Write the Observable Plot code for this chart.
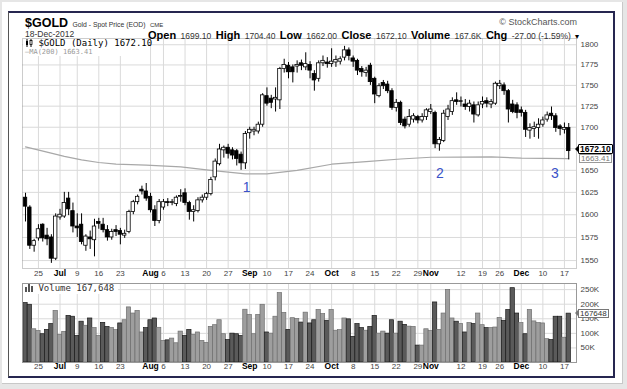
<!DOCTYPE html>
<html><head><meta charset="utf-8">
<script src="https://cdn.jsdelivr.net/npm/d3@7"></script>
<script src="https://cdn.jsdelivr.net/npm/@observablehq/plot@0.6"></script>
<style>
body{margin:0;width:627px;height:389px;background:#e6e6e6;font-family:"Liberation Sans",Arial,sans-serif;position:relative;overflow:hidden}
.abs{position:absolute;white-space:nowrap}
.mono{font-family:"DejaVu Sans Mono",monospace}
.hl{font-weight:bold;font-size:11px;color:#000}
.hv{font-size:8.5px;color:#333}
</style></head><body>
<div class="abs" style="left:2px;top:2px;width:620px;height:381px;background:#fff;border-right:1px solid #c8c8c8;border-bottom:1px solid #c8c8c8"></div>
<div class="abs" style="left:8px;top:11px;width:604px;height:363px;border-top:2px solid #262650;border-bottom:2px solid #262650;border-left:1px solid #555;border-right:2px solid #262650"></div>
<div id="price" class="abs" style="left:10px;top:30px"></div>
<div id="vol" class="abs" style="left:10px;top:282px"></div>

<div class="abs" style="left:25px;top:16px;line-height:12px"><b style="font-size:12.5px">$GOLD</b> <span style="font-size:6.8px;color:#333">Gold - Spot Price (EOD)</span> <span style="font-size:6px;color:#333">CME</span></div>
<div class="abs" style="left:25px;top:29.5px;font-size:8.5px;color:#333;line-height:8px">18-Dec-2012</div>
<div class="abs" style="left:148px;top:28.5px;line-height:9px"><span class="hl">Open</span> <span class="hv">1699.10</span> <span class="hl">High</span> <span class="hv">1704.40</span> <span class="hl">Low</span> <span class="hv">1662.00</span> <span class="hl">Close</span> <span class="hv">1672.10</span> <span class="hl">Volume</span> <span class="hv">167.6K</span> <span class="hl">Chg</span> <span class="hv">-27.00 (-1.59%)</span> <span style="font-size:8px">&#9662;</span></div>
<div class="abs" style="right:50px;top:17px;font-size:9px;color:#555;line-height:10px">&copy; StockCharts.com</div>

<div class="abs" style="left:23px;top:39px;width:126px;height:17px;background:#fff"></div>
<div class="abs mono" style="left:25px;top:39px;font-size:9px;line-height:9px;color:#000"><svg width="8" height="8" style="vertical-align:-1px"><line x1="2" y1="0" x2="2" y2="8" stroke="#000"/><rect x="1" y="2" width="2" height="4" fill="#000"/><line x1="6" y1="0" x2="6" y2="8" stroke="#000"/><rect x="5" y="1.5" width="2" height="4" fill="#fff" stroke="#000" stroke-width="0.8"/></svg> $GOLD (Daily) 1672.10</div>
<div class="abs mono" style="left:25px;top:49px;font-size:7px;line-height:7px;color:#9a9a9a">&mdash;MA(200) 1663.41</div>

<div class="abs" style="left:23px;top:284px;width:95px;height:10px;background:#fff"></div>
<div class="abs mono" style="left:25px;top:284px;font-size:9px;line-height:9px;color:#333"><svg width="8" height="8" style="vertical-align:-1px"><rect x="0" y="3" width="2" height="5" fill="#555"/><rect x="3" y="0" width="2" height="8" fill="#555"/><rect x="6" y="2" width="2" height="6" fill="#555"/></svg> Volume 167,648</div>

<div class="abs" style="left:575px;top:145px;width:0;height:0;border-top:4px solid transparent;border-bottom:4px solid transparent;border-right:4px solid #000"></div>
<div class="abs" style="left:578px;top:144px;border:1px solid #000;background:#fff;font-size:8.5px;font-weight:bold;line-height:8px;padding:0 1px;border-radius:1px">1672.10</div>
<div class="abs" style="left:579px;top:154px;border:1px solid #999;background:#fff;font-size:8px;color:#777;line-height:7px;padding:0 1px">1663.41</div>
<div class="abs" style="left:575px;top:309px;width:0;height:0;border-top:4px solid transparent;border-bottom:4px solid transparent;border-right:4px solid #777"></div>
<div class="abs" style="left:578px;top:308.5px;border:1px solid #777;background:#fff;font-size:8px;color:#333;line-height:7px;padding:0 1px">167648</div>

<script>
// Daily OHLC for $GOLD, trading days 20-Jun-2012 (index 0) to 18-Dec-2012 (index 126)
const open = [1619,1608,1566,1574,1589,1577,1575,1552,1597,1598,
1618,1604,1587,1589,1566,1575,1572,1592,1589,1583,
1575,1583,1582,1577,1581,1603,1614,1628,1626,1620,
1605,1593,1608,1614,1613,1612,1620,1624,1613,1603,
1604,1616,1619,1623,1642,1657,1673,1676,1673,1672,
1668,1658,1693,1695,1695,1703,1737,1734,1733,1732,
1770,1774,1772,1773,1777,1772,1775,1764,1758,1777,
1778,1776,1778,1779,1784,1793,1783,1780,1770,1765,
1774,1758,1737,1753,1751,1743,1723,1729,1709,1703,
1709,1712,1708,1712,1718,1717,1680,1684,1712,1718,
1732,1730,1727,1724,1726,1714,1727,1731,1727,1728,
1749,1750,1743,1727,1726,1720,1717,1696,1698,1699,
1703,1709,1716,1713,1701,1697,1699.1];
const high = [1624,1610,1573,1589,1590,1585,1578,1601,1606,1625,
1625,1613,1601,1601,1578,1582,1595,1596,1596,1588,
1584,1588,1585,1583,1605,1616,1622,1632,1635,1624,
1610,1617,1617,1618,1617,1621,1628,1629,1615,1610,
1619,1622,1625,1642,1663,1680,1678,1680,1676,1674,
1671,1695,1700,1700,1706,1740,1747,1738,1747,1772,
1782,1778,1775,1780,1781,1790,1779,1768,1780,1786,
1784,1795,1786,1785,1798,1796,1786,1782,1773,1772,
1777,1760,1752,1756,1755,1746,1733,1731,1712,1721,
1716,1714,1716,1722,1727,1719,1688,1720,1726,1735,
1741,1736,1733,1732,1730,1730,1736,1735,1733,1754,
1756,1753,1745,1732,1729,1724,1720,1704,1706,1710,
1712,1718,1724,1716,1703,1705,1704.4];
const low = [1592,1562,1559,1571,1570,1566,1547,1550,1594,1596,
1599,1580,1575,1567,1560,1562,1554,1584,1580,1571,
1572,1576,1567,1574,1579,1600,1611,1622,1615,1602,
1587,1590,1605,1609,1610,1609,1614,1610,1594,1592,
1602,1613,1616,1621,1638,1655,1664,1663,1662,1655,
1650,1651,1686,1690,1692,1700,1725,1722,1718,1721,
1765,1758,1753,1765,1768,1768,1758,1743,1754,1773,
1771,1772,1772,1775,1780,1780,1772,1762,1760,1760,
1750,1728,1735,1745,1740,1720,1718,1702,1698,1700,
1705,1704,1705,1708,1715,1675,1672,1682,1708,1714,
1726,1724,1720,1718,1705,1712,1722,1723,1722,1726,
1745,1738,1705,1716,1710,1712,1688,1686,1688,1686,
1700,1706,1708,1694,1690,1692,1662];
const close = [1609,1566,1571,1584,1574,1573,1552,1598,1600,1613,
1606,1587,1585,1570,1576,1573,1587,1590,1583,1575,
1581,1581,1578,1579,1603,1614,1620,1626,1618,1605,
1593,1614,1614,1613,1614,1619,1621,1613,1603,1605,
1616,1619,1623,1639,1660,1674,1676,1669,1667,1663,
1658,1692,1697,1697,1703,1738,1728,1729,1735,1770,
1775,1766,1766,1775,1774,1776,1768,1756,1777,1780,
1776,1779,1781,1782,1793,1786,1779,1768,1766,1768,
1754,1739,1749,1749,1743,1723,1729,1705,1701,1712,
1713,1708,1712,1720,1721,1680,1685,1716,1721,1731,
1730,1731,1724,1728,1715,1726,1730,1728,1730,1752,
1752,1743,1721,1718,1717,1717,1697,1699,1700,1703,
1708,1714,1713,1699,1698,1699.1,1672.1];
// Volume in thousands
const volume = [204,198,114,108,97,112,132,177,95,105,
160,157,91,140,126,151,118,91,136,122,
118,111,134,145,189,168,177,103,118,145,
151,119,74,76,82,66,106,91,112,95,
103,74,67,122,128,145,97,77,99,97,
91,181,163,97,163,198,103,99,157,238,
170,112,152,149,137,171,134,145,180,166,
143,180,109,111,151,148,88,132,118,109,
122,160,99,106,99,145,99,140,129,123,
122,58,58,114,108,206,112,168,249,151,
140,132,103,135,132,168,128,118,118,120,
153,143,180,255,168,135,97,180,141,135,
134,80,77,157,157,85,167.648];
// 200-day moving average readings (trading-day index, value)
const maIdx = [0,5,9,13,17,21,28,36,43,51,56,63,71,79,87,94,108,115,126];
const maVal = [1677,1671,1666,1662,1659,1657,1656,1654,1650,1646,1646,1650,1657,1660,1663,1665,1665.5,1664,1663.4];
// x-axis ticks (trading-day index) and labels
const tickIdx = [3,8,12,17,22,29,32,37,42,47,52,56,61,66,71,76,81,86,91,94,101,106,110,115,120,125];
const tickLbl = ["25","Jul","9","16","23","Aug","6","13","20","27","Sep","10","17","24","Oct","8","15","22","29","Nov","12","19","26","Dec","10","17"];
const priceGrid = [1550,1575,1600,1625,1650,1675,1700,1725,1750,1775,1800];
const priceLabels = [1550,1575,1600,1625,1650,1700,1725,1750,1775,1800];
const volTicks = [50,100,150,200,250];
// numbered annotations
const annoIdx = [51.3,96.1,122.8];
const annoPrice = [1630,1646,1646];
const annoText = ["1","2","3"];

const rows = d3.range(open.length).map(i => ({
  i, o: open[i], h: high[i], l: low[i], c: close[i], v: volume[i],
  up: close[i] >= open[i],
  volUp: i === 0 ? close[0] >= open[0] : close[i] >= close[i-1]
}));
const ticks = tickIdx.map((i,k) => ({i, label: tickLbl[k], month: /[A-Z]/.test(tickLbl[k])}));
const ma = maIdx.map((i,k) => ({i, v: maVal[k]}));
const anno = annoIdx.map((i,k) => ({i, p: annoPrice[k], t: annoText[k]}));

const xDomain = [-0.7, 127.8];
const W = 602;
const font = "Liberation Sans, Arial, sans-serif";
const xLabels = (dy) => [
  Plot.text(ticks.filter(d => !d.month), {x: "i", text: "label", frameAnchor: "bottom", dy, fontSize: 8, fill: "#444"}),
  Plot.text(ticks.filter(d => d.month), {x: "i", text: "label", frameAnchor: "bottom", dy, fontSize: 8.5, fontWeight: "bold", fill: "#000"})
];

const price = Plot.plot({
  width: W, height: 252, marginTop: 8, marginBottom: 14, marginLeft: 12, marginRight: 36,
  style: {background: "transparent", fontFamily: font, overflow: "visible"},
  x: {domain: xDomain, axis: null},
  y: {type: "log", domain: [1541.5, 1807.8], axis: null},
  color: {type: "identity"},
  marks: [
    Plot.ruleY(priceGrid, {stroke: "#dadada"}),
    Plot.ruleX(tickIdx, {stroke: "#dadada"}),
    Plot.frame({stroke: "#999", strokeDasharray: "1,1"}),
    Plot.line(ma, {x: "i", y: "v", stroke: "#a8a8a8", strokeWidth: 1.2}),
    Plot.ruleX(rows, {x: "i", y1: "l", y2: "h", stroke: "#000", strokeWidth: 1}),
    Plot.rect(rows, {x1: d => d.i - 0.4, x2: d => d.i + 0.4, y1: "o", y2: "c",
      fill: d => d.up ? "#fff" : "#000", stroke: "#000", strokeWidth: 0.8}),
    Plot.axisY(priceLabels, {anchor: "right", tickSize: 0, tickPadding: 4, tickFormat: d => String(d), label: null, fontSize: 8, color: "#444"}),
    Plot.text(anno, {x: "i", y: "p", text: "t", fill: "#3a52c8", fontSize: 14}),
    ...xLabels(7)
  ]
});
document.getElementById("price").append(price);

const vol = Plot.plot({
  width: W, height: 95, marginTop: 1, marginBottom: 15, marginLeft: 12, marginRight: 36,
  style: {background: "transparent", fontFamily: font, overflow: "visible"},
  x: {domain: xDomain, axis: null},
  y: {domain: [0, 271], axis: null},
  color: {type: "identity"},
  marks: [
    Plot.ruleY(volTicks, {stroke: "#dadada"}),
    Plot.ruleX(tickIdx, {stroke: "#dadada"}),
    Plot.rect(rows, {x1: d => d.i - 0.5, x2: d => d.i + 0.5, y1: 0, y2: "v",
      fill: d => d.volUp ? "#9e9e9e" : "#5a5a5a", stroke: d => d.volUp ? "#6e6e6e" : "#1a1a1a", strokeWidth: 0.7}),
    Plot.frame({stroke: "#999"}),
    Plot.axisY(volTicks, {anchor: "right", tickSize: 0, tickPadding: 4, tickFormat: d => d + "K", label: null, fontSize: 8, color: "#444"}),
    ...xLabels(6)
  ]
});
document.getElementById("vol").append(vol);
</script>
</body></html>
